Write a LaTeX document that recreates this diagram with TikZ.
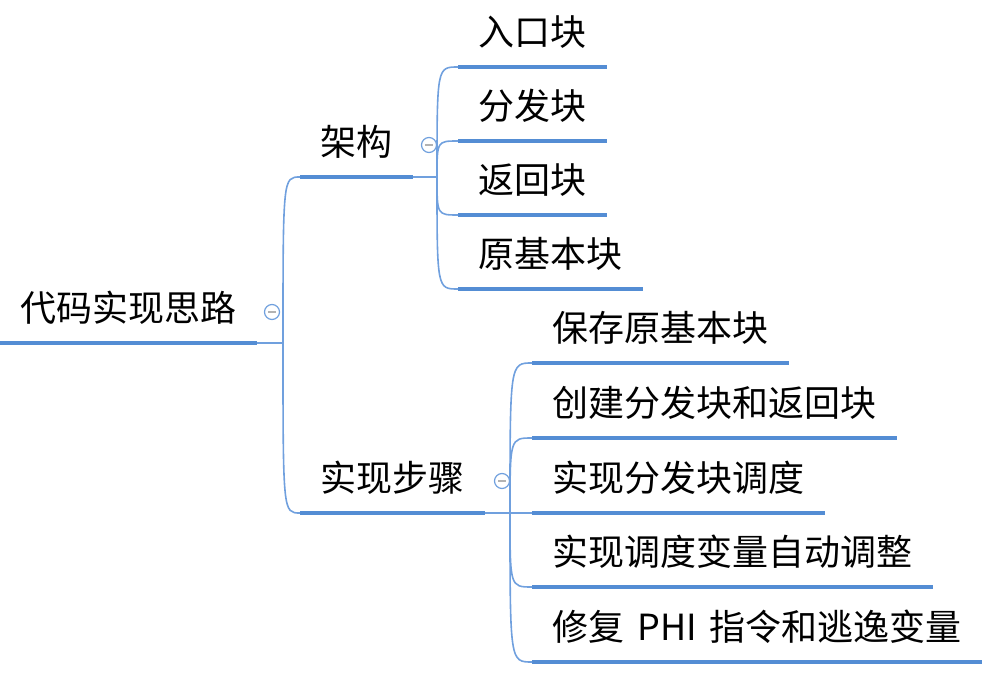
\documentclass[tikz,border=0pt]{standalone}
\usepackage{fontspec}
\setmainfont{Noto Sans CJK SC}
\usetikzlibrary{positioning}
\definecolor{mapblue}{RGB}{84,141,212}
\definecolor{linkblue}{RGB}{112,160,222}

\begin{document}
\begin{tikzpicture}[x=0.5pt, y=-0.5pt,
  topic/.style={anchor=south west, inner xsep=10pt, inner ysep=0pt,
                text height=14pt, text depth=10.5pt,
                font=\fontsize{18}{22}\selectfont},
  uline/.style={line width=2.2pt, mapblue},
  link/.style={line width=0.8pt, linkblue},
  fold/.style={circle, draw=linkblue, line width=0.6pt, fill=white,
               minimum size=7.5pt, inner sep=0pt,
               path picture={\draw[gray!60, line width=0.9pt]
                 ([xshift=-2pt]path picture bounding box.center) --
                 ([xshift=2pt]path picture bounding box.center);}}
]
  \useasboundingbox (0,0) rectangle (1006,700);

  % Root
  \node[topic] (R) at (0,343) {代码实现思路};
  % Level 1
  \node[topic] (A) at (300,177) {架构};
  \node[topic] (S) at (300,513) {实现步骤};
  % Level 2 (架构)
  \node[topic] (A1) at (458,67)  {入口块};
  \node[topic] (A2) at (458,141) {分发块};
  \node[topic] (A3) at (458,215) {返回块};
  \node[topic] (A4) at (458,289) {原基本块};
  % Level 2 (实现步骤)
  \node[topic] (S1) at (532,363) {保存原基本块};
  \node[topic] (S2) at (532,438) {创建分发块和返回块};
  \node[topic] (S3) at (532,513) {实现分发块调度};
  \node[topic] (S4) at (532,587) {实现调度变量自动调整};
  \node[topic] (S5) at (532,662) {修复\hspace{6.5pt}PHI\hspace{6.5pt}指令和逃逸变量};

  % Fork points
  \coordinate (Rf) at (283,343);
  \coordinate (Af) at (437,177);
  \coordinate (Sf) at (510,513);

  % Underlines
  \foreach \n in {R,A,S,A1,A2,A3,A4,S1,S2,S3,S4,S5}
    \draw[uline] (\n.south west) -- (\n.south east);

  % Connectors
  \draw[link] (R.south east) -- (Rf);
  \foreach \c in {A,S}
    \draw[link] (Rf) .. controls (Rf |- \c.south west) .. (\c.south west);
  \draw[link] (A.south east) -- (Af);
  \foreach \c in {A1,A2,A3,A4}
    \draw[link] (Af) .. controls (Af |- \c.south west) .. (\c.south west);
  \draw[link] (S.south east) -- (Sf);
  \foreach \c in {S1,S2,S3,S4,S5}
    \draw[link] (Sf) .. controls (Sf |- \c.south west) .. (\c.south west);

  % Fold markers
  \node[fold] (Rt) at (272,312) {};
  \node[fold] (At) at (429,145) {};
  \node[fold] (St) at (502,481) {};
\end{tikzpicture}
\end{document}
